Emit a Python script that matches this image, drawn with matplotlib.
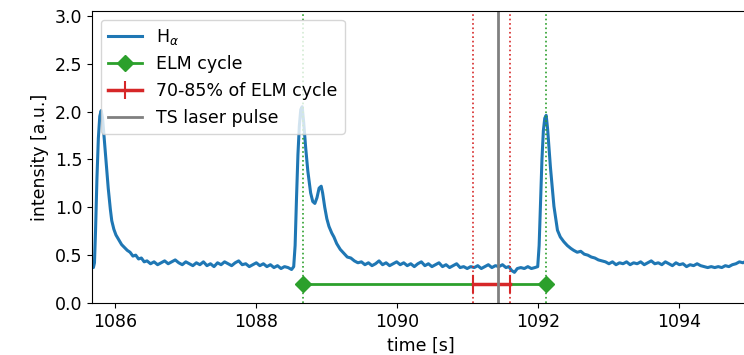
import numpy as np
import matplotlib
matplotlib.use('Agg')
import matplotlib.pyplot as plt

plt.rcParams['font.size'] = 12.5

# H-alpha Signal
t_ha = [1085.67, 1085.69, 1085.705, 1085.72, 1085.74, 1085.76, 1085.78, 1085.80, 1085.82, 1085.84,
        1085.87, 1085.90, 1085.93, 1085.95, 1085.98, 1086.01, 1086.05, 1086.09, 1086.13, 1086.17,
        1086.21, 1086.25, 1086.29, 1086.33, 1086.37, 1086.41, 1086.45, 1086.50, 1086.55, 1086.60,
        1086.65, 1086.70, 1086.75, 1086.80, 1086.85, 1086.90, 1086.95, 1087.00, 1087.05, 1087.10,
        1087.15, 1087.20, 1087.25, 1087.30, 1087.35, 1087.40, 1087.45, 1087.50, 1087.55, 1087.60,
        1087.65, 1087.70, 1087.75, 1087.80, 1087.85, 1087.90, 1087.95, 1088.00, 1088.05, 1088.10,
        1088.15, 1088.20, 1088.25, 1088.30, 1088.35, 1088.40, 1088.45, 1088.50, 1088.53,
        1088.55, 1088.57, 1088.59, 1088.61, 1088.63, 1088.65, 1088.67, 1088.70, 1088.73, 1088.77,
        1088.80, 1088.83, 1088.86, 1088.89, 1088.92, 1088.94, 1088.97, 1089.00, 1089.03, 1089.07,
        1089.10, 1089.14, 1089.19, 1089.24, 1089.29, 1089.34, 1089.39, 1089.44, 1089.49, 1089.54,
        1089.59, 1089.64, 1089.69, 1089.74, 1089.79, 1089.84, 1089.89, 1089.94, 1089.99, 1090.04,
        1090.09, 1090.14, 1090.19, 1090.24, 1090.29, 1090.34, 1090.39, 1090.44, 1090.49, 1090.54,
        1090.59, 1090.64, 1090.69, 1090.74, 1090.79, 1090.84, 1090.89, 1090.94, 1090.99, 1091.04,
        1091.09, 1091.14, 1091.19, 1091.24, 1091.29, 1091.34, 1091.39, 1091.44, 1091.49, 1091.54,
        1091.58, 1091.62, 1091.66, 1091.70, 1091.75, 1091.80, 1091.85, 1091.90, 1091.95, 1091.99,
        1092.01, 1092.03, 1092.05, 1092.07, 1092.09, 1092.11, 1092.13, 1092.15, 1092.17, 1092.20,
        1092.22, 1092.25, 1092.27, 1092.31, 1092.36, 1092.41, 1092.46, 1092.50, 1092.55, 1092.60,
        1092.65, 1092.70, 1092.75, 1092.80, 1092.85, 1092.90, 1092.95, 1093.00, 1093.05, 1093.10,
        1093.15, 1093.20, 1093.25, 1093.30, 1093.35, 1093.40, 1093.45, 1093.50, 1093.55, 1093.60,
        1093.65, 1093.70, 1093.75, 1093.80, 1093.85, 1093.90, 1093.95, 1094.00, 1094.05, 1094.10,
        1094.15, 1094.20, 1094.25, 1094.30, 1094.35, 1094.40, 1094.45, 1094.50, 1094.55, 1094.60,
        1094.65, 1094.70, 1094.75, 1094.80, 1094.85, 1094.90, 1094.95, 1095.00]
ha = [0.39, 0.37, 0.42, 0.75, 1.30, 1.72, 1.95, 2.01, 1.93, 1.75,
      1.48, 1.20, 0.98, 0.86, 0.77, 0.71, 0.66, 0.61, 0.58, 0.55,
      0.53, 0.49, 0.50, 0.46, 0.47, 0.43, 0.44, 0.41, 0.43, 0.40,
      0.42, 0.44, 0.41, 0.43, 0.45, 0.42, 0.40, 0.43, 0.41, 0.39,
      0.42, 0.40, 0.43, 0.39, 0.41, 0.38, 0.42, 0.40, 0.43, 0.41,
      0.39, 0.42, 0.44, 0.40, 0.41, 0.38, 0.40, 0.42, 0.39, 0.41,
      0.38, 0.40, 0.37, 0.39, 0.36, 0.38, 0.37, 0.35, 0.38,
      0.60, 1.10, 1.55, 1.85, 2.02, 2.05, 1.90, 1.62, 1.38, 1.15,
      1.06, 1.04, 1.10, 1.20, 1.22, 1.15, 1.00, 0.88, 0.80, 0.73,
      0.69, 0.62, 0.56, 0.52, 0.48, 0.47, 0.44, 0.42, 0.43, 0.40,
      0.42, 0.39, 0.41, 0.44, 0.40, 0.42, 0.39, 0.41, 0.43, 0.40,
      0.42, 0.39, 0.41, 0.38, 0.41, 0.43, 0.39, 0.41, 0.38, 0.40,
      0.42, 0.38, 0.40, 0.37, 0.39, 0.41, 0.37, 0.38, 0.36, 0.38,
      0.37, 0.39, 0.36, 0.38, 0.40, 0.37, 0.39, 0.38, 0.40, 0.37,
      0.38, 0.34, 0.32, 0.36, 0.37, 0.36, 0.38, 0.36, 0.37, 0.38,
      0.60, 1.05, 1.50, 1.80, 1.93, 1.96, 1.82, 1.62, 1.42, 1.18,
      1.01, 0.86, 0.76, 0.69, 0.64, 0.60, 0.57, 0.55, 0.53, 0.54,
      0.51, 0.50, 0.48, 0.47, 0.45, 0.44, 0.43, 0.41, 0.43, 0.40,
      0.42, 0.41, 0.43, 0.40, 0.42, 0.41, 0.43, 0.40, 0.42, 0.44,
      0.41, 0.42, 0.40, 0.43, 0.41, 0.39, 0.42, 0.40, 0.41, 0.38,
      0.40, 0.39, 0.41, 0.39, 0.38, 0.37, 0.38, 0.37, 0.38, 0.37,
      0.39, 0.38, 0.40, 0.41, 0.43, 0.42, 0.44, 0.43]

# ELM Zyklus und TS-Laserpuls
elm_start = 1088.66
elm_end = 1092.11
ts_time = 1091.42
frac_lo, frac_hi = 0.70, 0.85
y_bar = 0.2

cycle = elm_end - elm_start
win_lo = elm_start + frac_lo * cycle
win_hi = elm_start + frac_hi * cycle

fig = plt.figure(figsize=(7.44, 3.55), dpi=100)
ax = fig.add_axes([92 / 744, 52 / 355, 658 / 744, 292 / 355])

ax.plot(t_ha, ha, color='tab:blue', lw=2.2, label=r'H$_\alpha$')

# senkrechte Hilfslinien
for t in [elm_start, elm_end]:
    ax.axvline(t, color='tab:green', ls=':', lw=1.2)
for t in [win_lo, win_hi]:
    ax.axvline(t, color='tab:red', ls=':', lw=1.2)

ax.plot([elm_start, elm_end], [y_bar, y_bar], color='tab:green', lw=2,
        marker='D', markersize=8, label='ELM cycle')
ax.plot([win_lo, win_hi], [y_bar, y_bar], color='tab:red', lw=2.5,
        marker='|', markersize=13, markeredgewidth=1.5, label='70-85% of ELM cycle')
ax.axvline(ts_time, color='gray', lw=2, label='TS laser pulse')

ax.set_xlim(1085.67, 1095.0)
ax.set_ylim(0, 3.05)
ax.set_xticks([1086, 1088, 1090, 1092, 1094])
ax.set_yticks(np.arange(0, 3.01, 0.5))
ax.set_xlabel('time [s]')
ax.set_ylabel('intensity [a.u.]')
ax.legend(loc='upper left')

plt.savefig('out.png', dpi=100)
